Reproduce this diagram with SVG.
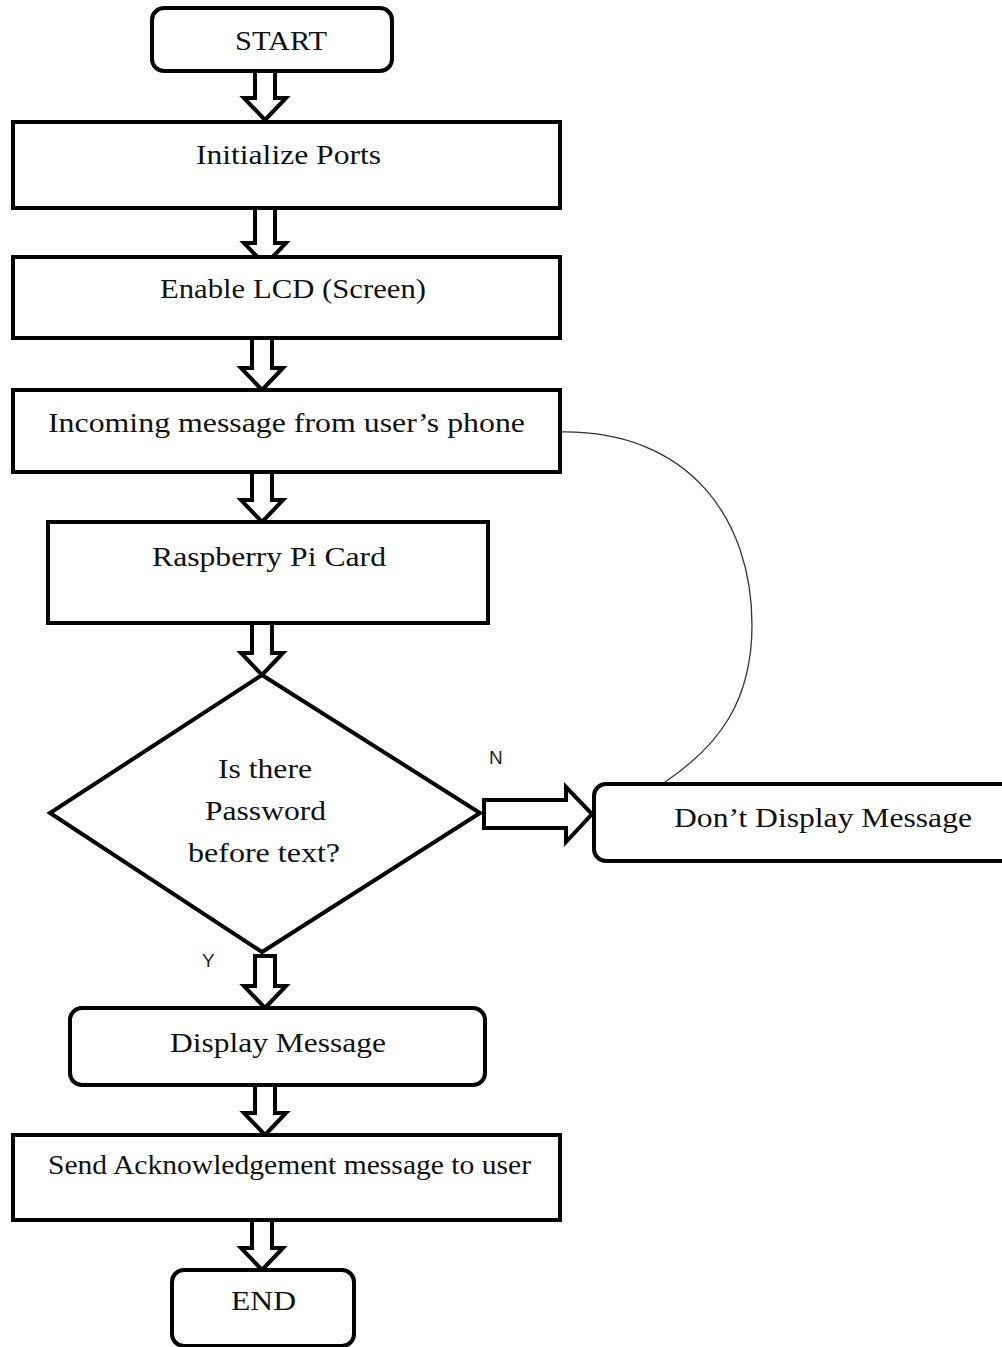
<svg xmlns="http://www.w3.org/2000/svg" width="1002" height="1347" viewBox="0 0 1002 1347">
<style>
.box{fill:#fff;stroke:#000;stroke-width:4}
.arr{fill:#fff;stroke:#000;stroke-width:4;stroke-linejoin:miter}
.t{font-family:"Liberation Serif","Times New Roman",serif;font-size:28px;fill:#111}
.lbl{font-family:"Liberation Sans",Arial,sans-serif;font-size:19px;fill:#222}
.curve{fill:none;stroke:#333;stroke-width:1.3}
</style>
<rect width="1002" height="1347" fill="#fff"/>
<g id="connectors">
<path class="curve" d="M560,432 C690,430 752,520 752,625 C752,700 720,745 665,782"/>
<polygon class="arr" points="255,71 275,71 275,98 286,98 265,120 244,98 255,98"/>
<polygon class="arr" points="255,208 275,208 275,243 286,243 265,265 244,243 255,243"/>
<polygon class="arr" points="252,338 272,338 272,368 283,368 262,390 241,368 252,368"/>
<polygon class="arr" points="252,472 272,472 272,500 283,500 262,522 241,500 252,500"/>
<polygon class="arr" points="252,623 272,623 272,653 283,653 262,675 241,653 252,653"/>
<polygon class="arr" points="255,956 275,956 275,986 286,986 265,1008 244,986 255,986"/>
<polygon class="arr" points="255,1085 275,1085 275,1113 286,1113 265,1135 244,1113 255,1113"/>
<polygon class="arr" points="252,1220 272,1220 272,1248 283,1248 262,1270 241,1248 252,1248"/>
<polygon class="arr" points="484,800 566,800 566,787 592,814 566,842 566,828 484,828"/>
<text class="lbl" x="489" y="764">N</text>
<text class="lbl" x="202" y="967">Y</text>
</g>
<g id="start"><rect class="box" x="152" y="8" width="240" height="63" rx="12"/><text class="t" x="235" y="50" textLength="92" lengthAdjust="spacingAndGlyphs">START</text></g>
<g id="init"><rect class="box" x="13" y="122" width="547" height="86"/><text class="t" x="196" y="164" textLength="185" lengthAdjust="spacingAndGlyphs">Initialize Ports</text></g>
<g id="lcd"><rect class="box" x="13" y="257" width="547" height="81"/><text class="t" x="160" y="298" textLength="266" lengthAdjust="spacingAndGlyphs">Enable LCD (Screen)</text></g>
<g id="incoming"><rect class="box" x="13" y="390" width="547" height="82"/><text class="t" x="48" y="432" textLength="477" lengthAdjust="spacingAndGlyphs">Incoming message  from user’s  phone</text></g>
<g id="rpi"><rect class="box" x="48" y="522" width="440" height="101"/><text class="t" x="152" y="566" textLength="234" lengthAdjust="spacingAndGlyphs">Raspberry Pi  Card</text></g>
<g id="decision"><polygon class="box" points="262,675 480,813 262,952 50,813"/>
<text class="t" x="218" y="778" textLength="94" lengthAdjust="spacingAndGlyphs">Is there</text><text class="t" x="205" y="820" textLength="121" lengthAdjust="spacingAndGlyphs">Password</text><text class="t" x="188" y="862" textLength="152" lengthAdjust="spacingAndGlyphs">before text?</text></g>
<g id="dont"><rect class="box" x="594" y="784" width="420" height="77" rx="12"/><text class="t" x="674" y="827" textLength="298" lengthAdjust="spacingAndGlyphs">Don’t Display  Message</text></g>
<g id="display"><rect class="box" x="70" y="1008" width="415" height="77" rx="12"/><text class="t" x="170" y="1052" textLength="216" lengthAdjust="spacingAndGlyphs">Display Message</text></g>
<g id="ack"><rect class="box" x="13" y="1135" width="547" height="85"/><text class="t" x="48" y="1174" textLength="483" lengthAdjust="spacingAndGlyphs">Send Acknowledgement message to user</text></g>
<g id="end"><rect class="box" x="172" y="1270" width="182" height="76" rx="12"/><text class="t" x="231" y="1310" textLength="65" lengthAdjust="spacingAndGlyphs">END</text></g>
</svg>
